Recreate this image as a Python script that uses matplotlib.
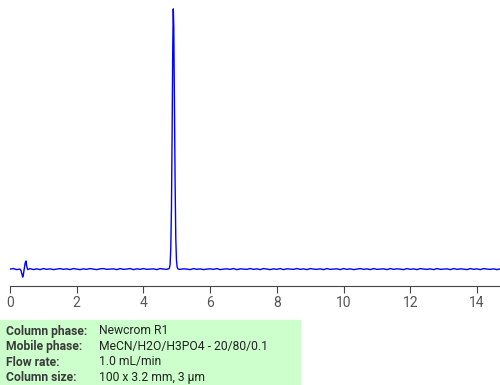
import numpy as np
import matplotlib
matplotlib.use("Agg")
import matplotlib.pyplot as plt

plt.rcParams['font.family'] = ['Roboto', 'DejaVu Sans']

# baseline noise, one value every 0.1 min from 0.0 to 14.7 (signal units, peak = 1000)
base_step = 0.1
base_noise = [0, 2, -2, 1, -1, 0, 2, -2, 1, -2,
              2, -1, 1, -2, 0, 2, -1, 1, -2, 2,
              0, -2, 1, -1, 2, 0, -2, 1, 2, -1,
              0, 1, -2, 2, -1, 0, 2, -2, 1, -1,
              2, -1, 0, 1, -2, 2, 0, -1, 1, -2,
              2, -1, 1, 0, -2, 2, -1, 1, -2, 0,
              1, -1, 2, -2, 0, 1, -1, 2, -2, 1,
              0, -1, 2, -1, 1, -2, 2, 0, -2, 1,
              -1, 2, -2, 1, 0, -1, 2, -1, 1, -2,
              2, 0, -1, 1, -2, 2, -1, 0, 1, -2,
              2, -1, 1, -2, 0, 2, -1, 1, -2, 2,
              -1, 0, 1, -2, 2, -1, 1, 0, -2, 2,
              -1, 1, -2, 2, 0, -1, 1, -2, 2, -1,
              0, 1, -2, 2, -1, 1, 0, -2, 2, -1,
              1, -2, 2, 0, -1, 1, -2, 1]

# injection disturbance near 0.4 min
dist_t = [0.30, 0.33, 0.36, 0.38, 0.40, 0.42, 0.44, 0.46, 0.48, 0.50, 0.53, 0.57]
dist_y = [0, -6, -20, -31, -22, -5, 12, 26, 31, 12, -2, 0]

# main peak
peak_t = [4.72, 4.76, 4.78, 4.80, 4.82, 4.84, 4.86, 4.88, 4.895, 4.91, 4.93,
          4.95, 4.97, 4.99, 5.01, 5.04, 5.08]
peak_y = [0, 1, 4, 18, 80, 230, 520, 860, 1000, 930, 640,
          330, 120, 35, 8, 0, -1]

xticks = [0, 2, 4, 6, 8, 10, 12, 14]

info_labels = ["Column phase:", "Mobile phase:", "Flow rate:", "Column size:"]
info_values = ["Newcrom R1", "MeCN/H2O/H3PO4 - 20/80/0.1", "1.0 mL/min", "100 x 3.2 mm, 3 µm"]

# merge baseline with disturbance and peak
base_t = np.arange(len(base_noise)) * base_step
mask = ~(((base_t > 0.28) & (base_t < 0.59)) | ((base_t > 4.70) & (base_t < 5.10)))
t = np.concatenate([base_t[mask], dist_t, peak_t])
y = np.concatenate([np.array(base_noise)[mask], dist_y, peak_y])
order = np.argsort(t)
t, y = t[order], y[order]

fig = plt.figure(figsize=(5, 3.85), dpi=100)
ax = fig.add_axes([0.02, 1 - 286 / 385, 0.98, (286 - 5) / 385])
ax.plot(t, y, color="#0000ff", lw=1)
ax.set_xlim(0, 14.69)
ax.set_ylim(-65, 1015)

for s in ["top", "right", "left"]:
    ax.spines[s].set_visible(False)
ax.spines["bottom"].set_color("#444444")
ax.set_yticks([])
ax.set_xticks(xticks)
ax.set_xticklabels([str(v) for v in xticks])
ax.tick_params(axis="x", colors="#444444", length=5, pad=2, labelsize=10)
for lbl in ax.get_xticklabels():
    lbl.set_color("#555555")

# info box
fig.patches.append(plt.Rectangle((0, 0), 300 / 500, 65 / 385, transform=fig.transFigure,
                                 color="#ccffcc", zorder=0))
for i in range(len(info_labels)):
    yy = 1 - (331 + i * 15.5) / 385
    fig.text(6 / 500, yy, info_labels[i], fontsize=8.7, fontweight="bold",
             color="#3a3a3a", va="center")
    fig.text(99 / 500, yy, info_values[i], fontsize=8.7, color="#222222", va="center")

fig.savefig("out.png", dpi=100)
